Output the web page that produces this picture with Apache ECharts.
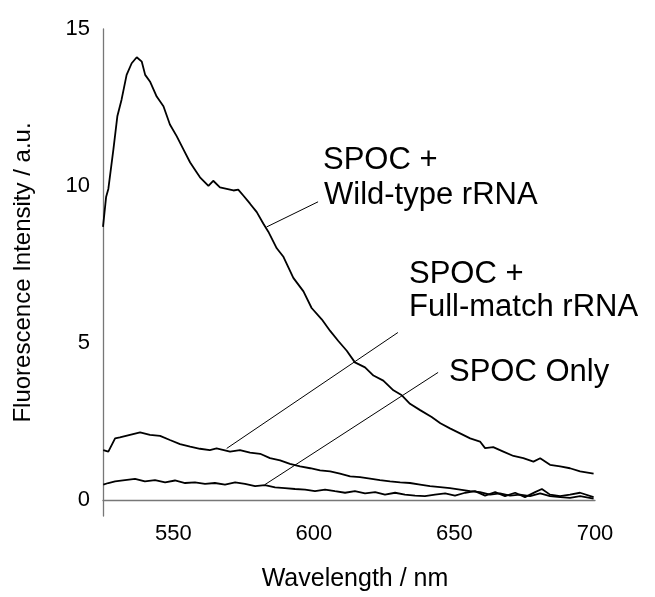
<!DOCTYPE html>
<html>
<head>
<meta charset="utf-8">
<script src="https://cdn.jsdelivr.net/npm/echarts@6/dist/echarts.min.js"></script>
<style>
html,body{margin:0;padding:0;background:#fff;}
#chart{width:655px;height:597px;}
</style>
</head>
<body>
<div id="chart"></div>
<script>
// Wild-type rRNA
var wtWavelength = [525.0, 526.1, 526.9, 528.7, 530.1, 531.6, 533.4, 535.2, 537.0, 538.8, 540.0, 541.7, 544.1, 546.5, 548.8, 551.2, 553.6, 556.0, 558.3, 559.5, 562.5, 564.2, 566.6, 569.0, 571.4, 573.1, 574.9, 577.3, 579.7, 582.0, 583.8, 586.8, 589.1, 592.7, 596.3, 599.2, 602.8, 605.8, 608.7, 611.7, 614.6, 618.2, 621.2, 624.7, 628.3, 631.3, 634.2, 637.8, 641.9, 645.0, 648.4, 652.0, 655.6, 659.1, 660.9, 663.8, 667.4, 671.0, 674.5, 678.1, 680.5, 684.0, 687.6, 691.1, 694.7, 699.5];
var wtIntensity = [8.70, 9.65, 9.91, 11.17, 12.22, 12.75, 13.54, 13.91, 14.10, 13.96, 13.54, 13.33, 12.85, 12.54, 11.96, 11.59, 11.17, 10.75, 10.44, 10.28, 10.01, 10.17, 9.96, 9.91, 9.86, 9.89, 9.70, 9.44, 9.17, 8.81, 8.55, 8.02, 7.76, 7.08, 6.65, 6.12, 5.76, 5.39, 5.07, 4.76, 4.39, 4.23, 3.97, 3.81, 3.50, 3.34, 3.07, 2.87, 2.65, 2.45, 2.29, 2.13, 1.97, 1.87, 1.66, 1.69, 1.55, 1.41, 1.34, 1.23, 1.34, 1.13, 1.08, 1.02, 0.92, 0.85];

// Full-match rRNA
var fmWavelength = [525.1, 526.9, 529.3, 531.0, 534.6, 538.2, 541.7, 545.3, 548.8, 552.4, 556.0, 559.5, 563.0, 565.4, 570.2, 573.7, 577.3, 580.9, 584.4, 588.0, 591.5, 595.1, 598.7, 602.2, 605.8, 609.3, 612.9, 616.4, 620.0, 623.5, 627.1, 630.7, 634.2, 637.8, 641.3, 644.9, 648.4, 652.0, 655.6, 659.1, 662.7, 666.2, 669.8, 673.3, 676.9, 680.5, 684.0, 687.6, 691.1, 694.7, 699.5];
var fmIntensity = [1.60, 1.55, 1.97, 2.00, 2.08, 2.16, 2.08, 2.05, 1.92, 1.79, 1.71, 1.64, 1.60, 1.65, 1.55, 1.60, 1.52, 1.48, 1.34, 1.27, 1.16, 1.08, 1.02, 0.95, 0.92, 0.85, 0.76, 0.74, 0.69, 0.64, 0.60, 0.57, 0.55, 0.50, 0.45, 0.42, 0.39, 0.34, 0.29, 0.26, 0.18, 0.22, 0.15, 0.18, 0.13, 0.22, 0.13, 0.10, 0.08, 0.13, 0.05];

// SPOC only
var soWavelength = [525.1, 526.9, 529.3, 532.8, 536.4, 539.9, 543.5, 547.1, 550.6, 554.2, 557.7, 561.3, 564.8, 568.4, 572.0, 575.5, 579.1, 582.6, 586.2, 589.7, 593.3, 596.9, 600.4, 604.0, 607.5, 611.1, 614.6, 618.2, 621.8, 625.3, 628.9, 632.4, 636.0, 639.5, 643.1, 646.7, 650.2, 653.8, 657.3, 660.9, 664.5, 668.0, 671.6, 675.1, 678.7, 681.1, 684.0, 687.6, 691.1, 694.7, 699.5];
var soIntensity = [0.50, 0.55, 0.60, 0.64, 0.68, 0.60, 0.64, 0.57, 0.63, 0.55, 0.57, 0.52, 0.55, 0.50, 0.57, 0.52, 0.45, 0.48, 0.41, 0.39, 0.36, 0.34, 0.29, 0.34, 0.29, 0.24, 0.29, 0.22, 0.26, 0.18, 0.24, 0.18, 0.15, 0.13, 0.18, 0.22, 0.15, 0.24, 0.29, 0.15, 0.26, 0.13, 0.24, 0.10, 0.26, 0.36, 0.18, 0.13, 0.18, 0.24, 0.10];

var xTicks = [550, 600, 650, 700];
var yTicks = [0, 5, 10, 15];

// leader lines (data coordinates): [start on curve, end near label]
var wtLeader = [[583.2, 8.70], [601.5, 9.5]];
var fmLeader = [[569.0, 1.65], [629.9, 5.34]];
var soLeader = [[582.6, 0.50], [644.2, 4.07]];

var FONT = "'Liberation Sans', Arial, sans-serif";

function pairs(xs, ys) { return xs.map(function (x, i) { return [x, ys[i]]; }); }
function leader(l) {
  return {
    silent: true, symbol: ['none', 'none'], animation: false,
    label: { show: false },
    lineStyle: { color: '#000', width: 1, type: 'solid' },
    emphasis: { disabled: true },
    data: [[{ coord: l[0] }, { coord: l[1] }]]
  };
}
function lineSeries(name, xs, ys, l) {
  return {
    name: name, type: 'line', data: pairs(xs, ys),
    showSymbol: false, symbol: 'none', smooth: false,
    lineStyle: { color: '#000', width: 1.8 },
    emphasis: { disabled: true },
    markLine: leader(l),
    z: 3
  };
}

var chart = echarts.init(document.getElementById('chart'), null, { renderer: 'canvas' });
chart.setOption({
  backgroundColor: '#fff',
  animation: false,
  grid: { left: 103, right: 60, top: 29, bottom: 77, containLabel: false },
  xAxis: {
    type: 'value', min: 525, max: 700,
    name: 'Wavelength / nm', nameLocation: 'middle', nameGap: 51,
    nameTextStyle: { fontSize: 25, color: '#000', fontFamily: FONT, padding: [0, 0, 0, 12] },
    axisLine: { show: true, lineStyle: { color: '#777', width: 1.3 } },
    axisTick: { show: false },
    splitLine: { show: false },
    axisLabel: { customValues: xTicks, fontSize: 22, color: '#000', fontFamily: FONT, margin: 7 }
  },
  yAxis: {
    type: 'value', min: -0.5, max: 15,
    name: 'Fluorescence Intensity / a.u.', nameLocation: 'middle', nameGap: 68,
    nameTextStyle: { fontSize: 24, color: '#000', fontFamily: FONT },
    axisLine: { show: true, lineStyle: { color: '#777', width: 1.3 } },
    axisTick: { show: false },
    splitLine: { show: false },
    axisLabel: { customValues: yTicks, fontSize: 22, color: '#000', fontFamily: FONT, margin: 13 }
  },
  series: [
    lineSeries('SPOC + Wild-type rRNA', wtWavelength, wtIntensity, wtLeader),
    lineSeries('SPOC + Full-match rRNA', fmWavelength, fmIntensity, fmLeader),
    lineSeries('SPOC Only', soWavelength, soIntensity, soLeader)
  ],
  graphic: [
    { type: 'text', left: 323, top: 145, style: { text: 'SPOC +', font: '31px ' + FONT, fill: '#000' } },
    { type: 'text', left: 324, top: 180, style: { text: 'Wild-type rRNA', font: '31px ' + FONT, fill: '#000' } },
    { type: 'text', left: 409, top: 259, style: { text: 'SPOC +', font: '31px ' + FONT, fill: '#000' } },
    { type: 'text', left: 409, top: 292, style: { text: 'Full-match rRNA', font: '31px ' + FONT, fill: '#000' } },
    { type: 'text', left: 449, top: 357, style: { text: 'SPOC Only', font: '31px ' + FONT, fill: '#000' } }
  ]
});
</script>
</body>
</html>
